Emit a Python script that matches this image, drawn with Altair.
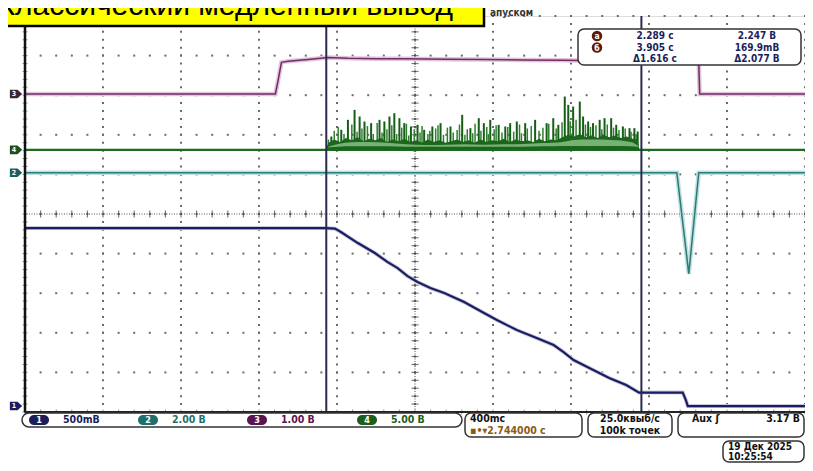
import altair as alt
import numpy as np
import pandas as pd

# ---------------- instrument settings ----------------
T_CENTER = 2.744      # s (horizontal delay, centre of screen)
T_PER_DIV = 0.4       # s/div
H_DIVS = 10
V_DIVS = 10
T_MIN = T_CENTER - T_PER_DIV * H_DIVS / 2
T_MAX = T_CENTER + T_PER_DIV * H_DIVS / 2
PLOT_W = 780
PLOT_H = 396

ch_ids = ["1", "2", "3", "4"]
ch_volts_per_div = [0.5, 2.0, 1.0, 5.0]
ch_ground_div = [0.15, 6.04, 8.03, 6.62]          # ground marker, divisions from bottom
ch_label = ["500mВ", "2.00 В", "1.00 В", "5.00 В"]
ch_color = ["#1b1d5e", "#2b7b78", "#6e2d66", "#1e6a1e"]
ch_marker_color = ["#1b1d5e", "#1f5c5c", "#3b2538", "#1d4f1d"]
ch_label_color = ["#1a1f5a", "#1f6e6e", "#5a1450", "#1d5e1d"]

# cursors
cur_names = ["a", "б"]
cur_t = [2.289, 3.905]
cur_v = [2.247, 0.1699]

# ---------------- traces (time s, volts) ----------------
ch1_t = [0.744, 2.288, 2.334, 2.364, 2.451, 2.538, 2.604, 2.655, 2.706, 2.757, 2.823, 2.894,
         2.996, 3.098, 3.164, 3.266, 3.368, 3.455, 3.506, 3.557, 3.638, 3.740, 3.827, 3.893,
         4.117, 4.133, 4.143, 4.183, 4.744]
ch1_v = [2.247, 2.247, 2.240, 2.197, 2.058, 1.932, 1.818, 1.742, 1.641, 1.566, 1.490, 1.427,
         1.313, 1.174, 1.086, 0.960, 0.859, 0.770, 0.682, 0.581, 0.480, 0.354, 0.265, 0.170,
         0.170, 0.076, 0.0, 0.0, 0.0]

ch2_t = [0.744, 4.087, 4.148, 4.199, 4.744]
ch2_v = [0.0, 0.0, -5.10, 0.0, 0.0]

ch3_t = [0.744, 2.028, 2.043, 2.059, 2.094, 2.150, 2.196, 2.298, 2.400, 2.550, 2.700, 2.900,
         3.100, 3.300, 3.500, 3.700, 3.900, 4.100, 4.199, 4.204, 4.744]
ch3_v = [0.0, 0.0, 0.37, 0.80, 0.83, 0.85, 0.87, 0.92, 0.90, 0.89, 0.89, 0.88,
         0.87, 0.86, 0.85, 0.84, 0.82, 0.81, 0.80, 0.0, 0.0]

ch4_base_t = [0.744, 4.744]
ch4_base_v = [0.0, 0.0]

# large spikes
ch4_pk_t = [2.315, 2.366, 2.400, 2.434, 2.460, 2.485, 2.519, 2.562, 2.587, 2.613, 2.638, 2.664,
            2.689, 2.723, 2.757, 2.791, 2.833, 2.875, 2.926, 2.986, 3.028, 3.071, 3.097, 3.130,
            3.173, 3.207, 3.232, 3.266, 3.309, 3.360, 3.419, 3.453, 3.479, 3.512, 3.530, 3.555,
            3.589, 3.606, 3.632, 3.657, 3.691, 3.716, 3.750, 3.776, 3.810, 3.844, 3.869, 3.886]
ch4_pk_v = [1.68, 2.53, 3.79, 5.05, 4.21, 3.58, 3.37, 3.79, 3.58, 4.21, 4.63, 4.00,
            3.37, 2.95, 3.16, 2.53, 2.95, 3.37, 2.95, 4.42, 2.74, 4.00, 3.37, 3.79,
            3.16, 2.95, 3.37, 3.58, 3.37, 3.79, 3.37, 4.00, 3.16, 6.73, 5.68, 5.47,
            6.10, 4.21, 3.58, 3.37, 3.79, 4.00, 4.00, 3.16, 2.95, 2.74, 2.74, 2.31]
# smaller spikes in between
ch4_sm_t = [2.300, 2.330, 2.350, 2.380, 2.420, 2.447, 2.472, 2.500, 2.530, 2.550, 2.575, 2.600,
            2.625, 2.650, 2.676, 2.700, 2.712, 2.740, 2.770, 2.780, 2.810, 2.820, 2.850, 2.862,
            2.890, 2.910, 2.940, 2.960, 2.972, 3.000, 3.012, 3.040, 3.052, 3.082, 3.112, 3.120,
            3.150, 3.160, 3.190, 3.220, 3.250, 3.280, 3.290, 3.320, 3.340, 3.380, 3.400, 3.430,
            3.468, 3.498, 3.540, 3.570, 3.618, 3.644, 3.672, 3.702, 3.730, 3.762, 3.790, 3.822,
            3.852, 3.878]
ch4_sm_v = [1.3, 2.4, 2.9, 2.0, 3.2, 2.3, 2.7, 3.0, 2.0, 3.4, 2.2, 2.6,
            3.1, 2.0, 2.8, 3.3, 1.8, 2.6, 2.2, 3.0, 2.0, 2.4, 2.7, 3.1,
            1.9, 2.8, 2.2, 2.5, 3.2, 1.9, 2.6, 2.1, 3.3, 2.4, 2.9, 2.0,
            2.6, 3.1, 2.2, 2.9, 2.3, 3.2, 2.1, 2.7, 3.0, 2.4, 2.8, 3.3,
            2.7, 3.5, 3.6, 3.8, 3.2, 2.9, 3.1, 2.6, 3.2, 2.8, 2.5, 2.7,
            2.3, 2.0]
# dense lower envelope (jagged)
ch4_env_t = [2.285, 2.300, 2.330, 2.360, 2.390, 2.420, 2.450, 2.480, 2.510, 2.540, 2.570, 2.600,
             2.630, 2.660, 2.690, 2.720, 2.750, 2.780, 2.810, 2.840, 2.870, 2.900, 2.930, 2.960,
             2.990, 3.020, 3.050, 3.080, 3.110, 3.140, 3.170, 3.200, 3.230, 3.260, 3.290, 3.320,
             3.350, 3.380, 3.410, 3.440, 3.470, 3.500, 3.530, 3.560, 3.590, 3.620, 3.650, 3.680,
             3.710, 3.740, 3.770, 3.800, 3.830, 3.860, 3.885, 3.895]
ch4_env_v = [0.0, 0.9, 1.3, 1.0, 1.5, 1.2, 1.6, 1.1, 1.4, 1.2, 1.5, 1.0,
             1.3, 1.1, 1.4, 1.0, 1.2, 0.9, 1.3, 1.0, 1.2, 0.9, 1.1, 1.3,
             1.0, 1.2, 0.9, 1.3, 1.0, 1.2, 1.1, 1.4, 1.0, 1.3, 1.1, 1.2,
             1.0, 1.4, 1.1, 1.3, 1.2, 1.6, 1.9, 1.7, 2.0, 1.6, 1.8, 1.5,
             1.9, 1.6, 1.8, 1.5, 1.7, 1.4, 1.3, 0.0]
# light "glow" band inside the dense part
ch4_glow_t = [2.300, 2.350, 2.420, 2.500, 2.600, 2.700, 2.800, 2.900, 3.000, 3.100, 3.200,
              3.300, 3.400, 3.500, 3.560, 3.650, 3.750, 3.850, 3.890]
ch4_glow_lo = [0.30, 0.40, 0.45, 0.45, 0.45, 0.40, 0.40, 0.40, 0.40, 0.40, 0.40,
               0.40, 0.45, 0.50, 0.50, 0.50, 0.50, 0.45, 0.35]
ch4_glow_hi = [0.40, 0.75, 0.95, 1.00, 0.90, 0.70, 0.60, 0.65, 0.70, 0.65, 0.70,
               0.75, 0.85, 1.00, 1.25, 1.30, 1.25, 1.00, 0.50]

# ---------------- helpers ----------------
def to_div(v, ch):
    i = ch_ids.index(ch)
    return ch_ground_div[i] + np.asarray(v, dtype=float) / ch_volts_per_div[i]

def trace_df(t, v, ch):
    return pd.DataFrame({"t": t, "d": to_div(v, ch)})

grid_t = [T_MIN + T_PER_DIV * k for k in range(H_DIVS + 1)]
grid_d = list(range(V_DIVS + 1))
minor_t = list(np.linspace(T_MIN, T_MAX, H_DIVS * 5 + 1))
minor_d = list(np.linspace(0, V_DIVS, V_DIVS * 5 + 1))

xscale = alt.Scale(domain=[T_MIN, T_MAX], nice=False, zero=False)
yscale = alt.Scale(domain=[0, V_DIVS], nice=False, zero=False)

def X(f="t"):
    return alt.X(f"{f}:Q", scale=xscale, axis=None)

def Y(f="d"):
    return alt.Y(f"{f}:Q", scale=yscale, axis=None)

ONE = pd.DataFrame({"k": [0]})
UI = "DejaVu Sans Condensed, Liberation Sans Narrow, DejaVu Sans, sans-serif"

def txt(s, x, y, color="#111", size=10.5, align="left", weight="bold", font=UI, baseline="middle"):
    return alt.Chart(pd.DataFrame({"s": [s]})).mark_text(
        align=align, baseline=baseline, fontSize=size, fontWeight=weight, font=font, color=color
    ).encode(x=alt.value(x), y=alt.value(y), text="s:N")

def box(x, x2, y, y2, fill="white", stroke="#333", sw=1.5, r=5):
    return alt.Chart(ONE).mark_rect(fill=fill, stroke=stroke, strokeWidth=sw, cornerRadius=r).encode(
        x=alt.value(x), x2=alt.value(x2), y=alt.value(y), y2=alt.value(y2))

layers = []

# dotted graticule: dots every 1/5 division along each major line
gv = pd.DataFrame([(t, d) for t in grid_t for d in minor_d], columns=["t", "d"])
gh = pd.DataFrame([(t, d) for d in grid_d for t in minor_t], columns=["t", "d"])
grid = pd.concat([gv, gh], ignore_index=True)
layers.append(alt.Chart(grid).mark_square(size=4, color="#6a6a6a", opacity=1).encode(x=X(), y=Y()))

# centre cross and edge ticks
layers.append(alt.Chart(pd.DataFrame({"t": [T_CENTER]})).mark_rule(
    color="#555", strokeWidth=1, strokeDash=[1, 1.5]).encode(x=X()))
layers.append(alt.Chart(pd.DataFrame({"d": [V_DIVS / 2]})).mark_rule(
    color="#555", strokeWidth=1, strokeDash=[1, 1.5]).encode(y=Y()))
layers.append(alt.Chart(pd.DataFrame({"t": minor_t, "d": [V_DIVS / 2] * len(minor_t)})).mark_tick(
    orient="vertical", size=7, thickness=1.2, color="#444").encode(x=X(), y=Y()))
layers.append(alt.Chart(pd.DataFrame({"d": minor_d, "t": [T_CENTER] * len(minor_d)})).mark_tick(
    orient="horizontal", size=7, thickness=1.2, color="#444").encode(x=X(), y=Y()))
layers.append(alt.Chart(pd.DataFrame({"d": minor_d, "t": [T_MIN] * len(minor_d)})).mark_tick(
    orient="horizontal", size=5, thickness=1, color="#666").encode(x=X(), y=Y()))
layers.append(alt.Chart(pd.DataFrame({"t": minor_t, "d": [0] * len(minor_t)})).mark_tick(
    orient="vertical", size=5, thickness=1, color="#666").encode(x=X(), y=Y()))

# ---- channel 4 (green, noisy) ----
g0 = ch_ground_div[3]
env = pd.DataFrame({"t": ch4_env_t, "d": to_div(ch4_env_v, "4"), "d0": [g0] * len(ch4_env_t)})
glow = pd.DataFrame({"t": ch4_glow_t, "lo": to_div(ch4_glow_lo, "4"), "hi": to_div(ch4_glow_hi, "4")})
pk = pd.DataFrame({"t": ch4_pk_t, "d": to_div(ch4_pk_v, "4"), "d0": [g0] * len(ch4_pk_t)})
sm = pd.DataFrame({"t": ch4_sm_t, "d": to_div(ch4_sm_v, "4"), "d0": [g0] * len(ch4_sm_t)})
layers.append(alt.Chart(trace_df(ch4_base_t, ch4_base_v, "4")).mark_line(
    color=ch_color[3], strokeWidth=2.4).encode(x=X(), y=Y()))
layers.append(alt.Chart(sm).mark_rule(color="#2f7f2f", strokeWidth=1.5).encode(
    x=X(), y=Y("d0"), y2=alt.Y2("d:Q")))
layers.append(alt.Chart(pk).mark_rule(color="#155e15", strokeWidth=2).encode(
    x=X(), y=Y("d0"), y2=alt.Y2("d:Q")))
layers.append(alt.Chart(env).mark_area(color="#1c661c", opacity=1).encode(
    x=X(), y=Y("d0"), y2=alt.Y2("d:Q")))
layers.append(alt.Chart(glow).mark_area(color="#a8dca8", opacity=0.65, interpolate="monotone").encode(
    x=X(), y=Y("lo"), y2=alt.Y2("hi:Q")))

# ---- channel 3 (purple) ----
d3 = trace_df(ch3_t, ch3_v, "3")
layers.append(alt.Chart(d3).mark_line(color="#e2c4dc", strokeWidth=4.5).encode(x=X(), y=Y()))
layers.append(alt.Chart(d3).mark_line(color=ch_color[2], strokeWidth=1.5).encode(x=X(), y=Y()))

# ---- channel 2 (teal) ----
d2 = trace_df(ch2_t, ch2_v, "2")
layers.append(alt.Chart(d2).mark_line(color="#bfe0de", strokeWidth=4.5).encode(x=X(), y=Y()))
layers.append(alt.Chart(d2).mark_line(color=ch_color[1], strokeWidth=1.5).encode(x=X(), y=Y()))

# ---- channel 1 (navy) ----
d1 = trace_df(ch1_t, ch1_v, "1")
layers.append(alt.Chart(d1).mark_line(color="#c9cae0", strokeWidth=4).encode(x=X(), y=Y()))
layers.append(alt.Chart(d1).mark_line(color=ch_color[0], strokeWidth=2.2).encode(x=X(), y=Y()))

# cursors
layers.append(alt.Chart(pd.DataFrame({"t": cur_t})).mark_rule(color="#2a2a4e", strokeWidth=2).encode(x=X()))

# frame: thick left and bottom edges
layers.append(alt.Chart(ONE).mark_rule(color="#111", strokeWidth=2.5).encode(
    x=alt.value(0), y=alt.value(0), y2=alt.value(PLOT_H)))
layers.append(alt.Chart(ONE).mark_rule(color="#222", strokeWidth=2).encode(
    x=alt.value(0), x2=alt.value(PLOT_W), y=alt.value(PLOT_H)))

# channel ground markers on the left
mk = pd.DataFrame({"d": ch_ground_div, "ch": ch_ids, "c": ch_marker_color})
layers.append(alt.Chart(mk).mark_point(
    shape="M-1,-0.7L0.25,-0.7L1,0L0.25,0.7L-1,0.7Z", filled=True, size=150, opacity=1).encode(
    x=alt.value(-9), y=Y(), color=alt.Color("c:N", scale=None)))
layers.append(alt.Chart(mk).mark_text(fontSize=7, fontWeight="bold", color="white", font=UI).encode(
    x=alt.value(-11), y=Y(), text="ch:N"))

# ---- title banner ----
layers.append(alt.Chart(ONE).mark_rect(fill="#ffff00", stroke="#000", strokeWidth=2.5).encode(
    x=alt.value(-40), x2=alt.value(459), y=alt.value(-40), y2=alt.value(10)))
layers.append(txt("Классический медленный вывод", 428, -1, color="#000", size=30, align="right",
                  weight="normal", font="Liberation Sans, Arial, sans-serif", baseline="alphabetic"))
layers.append(txt("апуском", 465, -3.5, color="#333", size=10))

# ---- cursor readout ----
layers.append(box(553, 776, 13, 49, r=6))
cur_rows_y = [20, 31.5]
for i in range(2):
    layers.append(alt.Chart(ONE).mark_point(shape="circle", filled=True, size=110, color="#5c1a0a", opacity=1).encode(
        x=alt.value(572), y=alt.value(cur_rows_y[i])))
    layers.append(txt(cur_names[i], 572, cur_rows_y[i], color="white", size=8.5, align="center"))
    layers.append(txt(f"{cur_t[i]:.3f} с", 630, cur_rows_y[i], color="#1a1f5a", size=10, align="center"))
v_txt = [f"{cur_v[0]:.3f} В", f"{cur_v[1]*1000:.1f}mВ"]
for i in range(2):
    layers.append(txt(v_txt[i], 732, cur_rows_y[i], color="#1a1f5a", size=10, align="center"))
layers.append(txt(f"Δ{cur_t[1]-cur_t[0]:.3f} с", 630, 43, color="#1a1f5a", size=10, align="center"))
layers.append(txt(f"Δ{cur_v[0]-cur_v[1]:.3f} В", 732, 43, color="#1a1f5a", size=10, align="center"))

# ---- bottom status bar ----
layers.append(box(-3, 437, 397, 411, r=7))
pill_x = [4, 113, 222, 332]
for i in range(4):
    layers.append(alt.Chart(ONE).mark_rect(fill=ch_label_color[i], cornerRadius=5).encode(
        x=alt.value(pill_x[i]), x2=alt.value(pill_x[i] + 20), y=alt.value(399), y2=alt.value(409)))
    layers.append(txt(ch_ids[i], pill_x[i] + 10, 404, color="white", size=9, align="center"))
    layers.append(txt(ch_label[i], pill_x[i] + 34, 404, color=ch_label_color[i]))

layers.append(box(440, 557, 397, 421, r=6))
layers.append(txt(f"{int(T_PER_DIV*1000)}mс", 445, 403, color="#111"))
layers.append(txt(f"▪•▾{T_CENTER:.6f} с", 445, 415, color="#8b5a14"))

layers.append(box(563, 647, 397, 421, r=6))
layers.append(txt("25.0квыб/с", 605, 403, color="#111", align="center"))
layers.append(txt("100k точек", 605, 415, color="#111", align="center"))

layers.append(box(653, 779, 397, 421, r=6))
layers.append(txt("Aux ʃ", 667, 403, color="#111"))
layers.append(txt("3.17 В", 775, 403, color="#111", align="right"))

layers.append(box(698, 779, 425, 446, r=6))
layers.append(txt("19 Дек 2025", 703, 430.5, color="#111", size=10))
layers.append(txt("10:25:54", 703, 440.5, color="#111", size=10))

chart = alt.layer(*layers).properties(
    width=PLOT_W, height=PLOT_H, autosize="none",
    padding={"left": 17, "top": 8, "right": 0, "bottom": 51},
).configure_view(stroke="#9a9a9a", strokeWidth=1).configure(background="white")

chart.save("out.html", embed_options={"renderer": "svg", "actions": False})
